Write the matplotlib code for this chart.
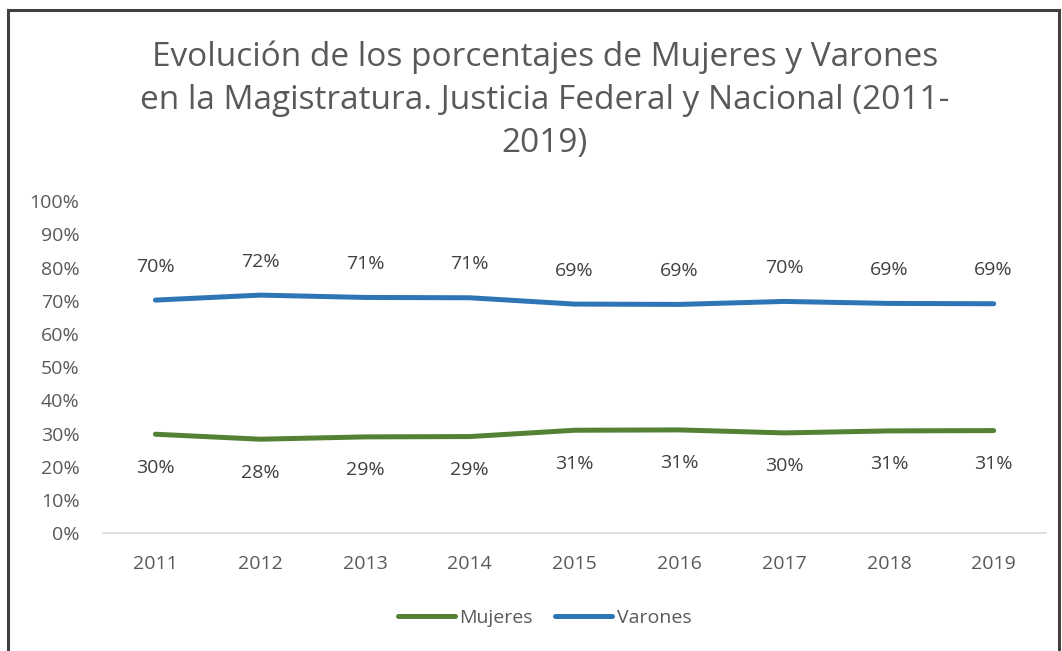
import matplotlib
matplotlib.use("Agg")
import matplotlib.pyplot as plt
from matplotlib.lines import Line2D

years = ["2011", "2012", "2013", "2014", "2015", "2016", "2017", "2018", "2019"]
mujeres = [29.8, 28.3, 29.0, 29.1, 31.0, 31.1, 30.2, 30.8, 30.9]
varones = [70.2, 71.7, 71.0, 70.9, 69.0, 68.9, 69.8, 69.2, 69.1]
yticks = [0, 10, 20, 30, 40, 50, 60, 70, 80, 90, 100]

title = ("Evolución de los porcentajes de Mujeres y Varones\n"
         "en la Magistratura. Justicia Federal y Nacional (2011-\n2019)")

plt.rcParams['font.family'] = ['Open Sans', 'DejaVu Sans']
GRAY = "#595959"
GREEN = "#548235"
BLUE = "#2E75B6"
FS = 14

fig = plt.figure(figsize=(10.62, 6.51), dpi=100)
ax = fig.add_axes([0.097, 0.181, 0.888, 0.510])

x = list(range(len(years)))
ax.plot(x, mujeres, color=GREEN, lw=3.6, solid_capstyle='round', label="Mujeres")
ax.plot(x, varones, color=BLUE, lw=3.6, solid_capstyle='round', label="Varones")

for xi, v in zip(x, varones):
    ax.annotate(f"{v:.0f}%", (xi, v), xytext=(0, 24), textcoords='offset points',
                ha='center', va='center', fontsize=FS, color="#404040")
for xi, v in zip(x, mujeres):
    ax.annotate(f"{v:.0f}%", (xi, v), xytext=(0, -24), textcoords='offset points',
                ha='center', va='center', fontsize=FS, color="#404040")

ax.set_xlim(-0.5, len(years) - 0.5)
ax.set_ylim(0, 100)
ax.set_yticks(yticks)
ax.set_yticklabels([f"{t}%" for t in yticks])
ax.set_xticks(x)
ax.set_xticklabels(years)
ax.tick_params(axis='y', length=0, pad=17, labelsize=FS, labelcolor=GRAY)
ax.tick_params(axis='x', length=0, pad=16, labelsize=FS, labelcolor=GRAY)
for s in ['top', 'right', 'left']:
    ax.spines[s].set_visible(False)
ax.spines['bottom'].set_color("#D9D9D9")
ax.spines['bottom'].set_linewidth(1.2)

fig.text(0.513, 0.846, title, ha='center', va='center', fontsize=24,
         color=GRAY, linespacing=1.4)

leg = fig.legend(loc='center', bbox_to_anchor=(0.513, 0.051), ncol=2, frameon=False,
                 fontsize=FS, handlelength=2.9, handletextpad=0.25, columnspacing=1.15)
for t in leg.get_texts():
    t.set_color(GRAY)

bc = "#404040"
fig.add_artist(Line2D([8/1062, 8/1062], [0, 1 - 10/651], transform=fig.transFigure, color=bc, lw=2.2))
fig.add_artist(Line2D([8/1062, 1059/1062], [1 - 10/651, 1 - 10/651], transform=fig.transFigure, color=bc, lw=2.2))
fig.add_artist(Line2D([1059/1062, 1059/1062], [0, 1 - 10/651], transform=fig.transFigure, color=bc, lw=2.2))

fig.savefig("out.png", dpi=100)
